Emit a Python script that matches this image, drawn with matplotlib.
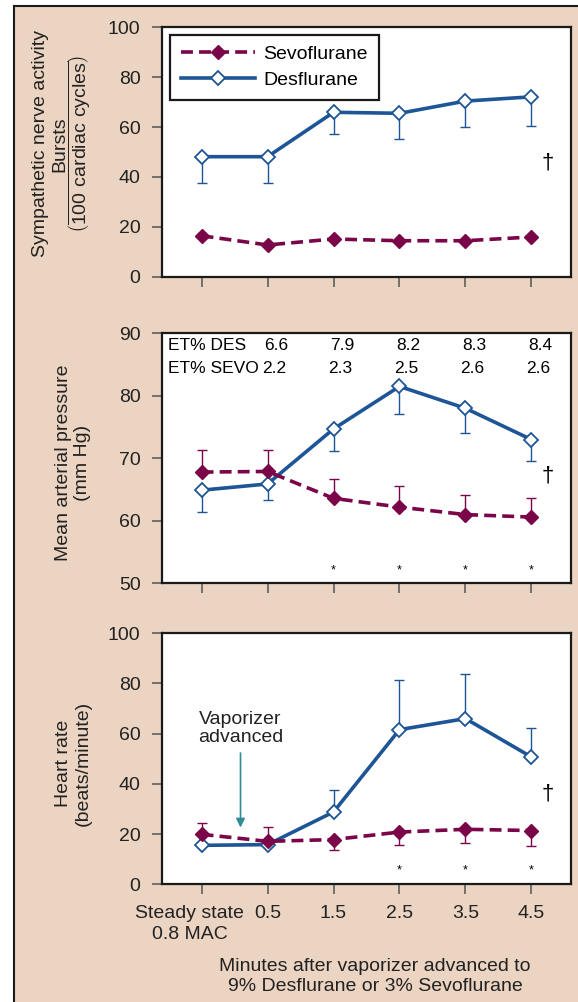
import numpy as np
import matplotlib.pyplot as plt
import matplotlib.transforms as mtransforms
from matplotlib.lines import Line2D
from matplotlib.patches import Rectangle

plt.rcParams['font.family'] = ['Liberation Sans', 'DejaVu Sans']
plt.rcParams['mathtext.fontset'] = 'custom'
plt.rcParams['mathtext.rm'] = 'Liberation Sans'

# ---------------- dados ----------------
tempos = ['Steady state\n0.8 MAC', '0.5', '1.5', '2.5', '3.5', '4.5']
x = np.arange(len(tempos))

# painel 1: atividade nervosa simpática
sna_sevo = [16.4, 12.7, 15.1, 14.4, 14.4, 15.9]
sna_des = [48.1, 48.1, 65.9, 65.5, 70.4, 72.1]
sna_des_barra = [37.6, 37.6, 57.3, 55.1, 59.9, 60.5]   # extremo da barra de erro

# painel 2: pressão arterial média
map_sevo = [67.8, 67.9, 63.6, 62.2, 61.0, 60.6]
map_sevo_barra = [71.3, 71.3, 66.7, 65.6, 64.1, 63.6]
map_des = [64.9, 65.9, 74.7, 81.5, 78.0, 73.0]
map_des_barra = [61.4, 63.4, 71.2, 77.1, 74.0, 69.5]
et_des = ['6.6', '7.9', '8.2', '8.3', '8.4']
et_sevo = ['2.2', '2.3', '2.5', '2.6', '2.6']

# painel 3: frequência cardíaca
hr_sevo = [19.9, 17.1, 17.8, 20.8, 21.9, 21.4]
hr_sevo_barra = [24.3, 22.8, 13.5, 15.5, 16.5, 15.3]
hr_des = [15.5, 15.8, 28.8, 61.6, 66.0, 50.7]
hr_des_barra = [np.nan, np.nan, 37.7, 81.4, 83.8, 62.2]

# marcas de significância
map_asterisco = [2, 3, 4, 5]
hr_asterisco = [3, 4, 5]

AZUL = '#1d5596'
GRENA = '#7a0548'
TAN = '#ebd4c1'
TEAL = '#2f8c97'
PRETO = '#1a1a1a'
TEXTO = '#222222'


def barras(ax, y, extremo, cor):
    y = np.asarray(y, dtype=float)
    e = np.asarray(extremo, dtype=float)
    ok = ~np.isnan(e)
    inf = np.where(e < y, y - e, 0.0)
    sup = np.where(e > y, e - y, 0.0)
    ax.errorbar(x[ok], y[ok], yerr=[inf[ok], sup[ok]], fmt='none', ecolor=cor,
                elinewidth=1.0, capsize=3.8, capthick=1.0, zorder=2)


def series(ax, sevo, des):
    l_des, = ax.plot(x, des, color=AZUL, lw=2.6, marker='D', ms=7.4, mfc='white',
                     mec=AZUL, mew=1.3, zorder=3)
    l_sevo, = ax.plot(x, sevo, color=GRENA, lw=2.6, ls=(0, (3.3, 1.7)), marker='D',
                      ms=7.4, mfc=GRENA, mec=GRENA, zorder=4)
    return l_sevo, l_des


fig = plt.figure(figsize=(5.78, 10.02), dpi=100)
fig.patch.set_facecolor('white')
fig.add_artist(Rectangle((15 / 578, 0), 1, 1 - 6.5 / 1002, transform=fig.transFigure,
                         facecolor=TAN, edgecolor='none', zorder=-10))
fig.add_artist(Line2D([14.3 / 578] * 2, [0, 1 - 5.7 / 1002], transform=fig.transFigure,
                      color=PRETO, lw=1.5))
fig.add_artist(Line2D([14.3 / 578, 1], [1 - 5.7 / 1002] * 2, transform=fig.transFigure,
                      color=PRETO, lw=1.5))

ax1 = fig.add_axes([0.2803, 0.7239, 0.7076, 0.2489])
ax2 = fig.add_axes([0.2803, 0.4178, 0.7076, 0.2496])
ax3 = fig.add_axes([0.2803, 0.1175, 0.7076, 0.2505])

for ax in (ax1, ax2, ax3):
    ax.set_facecolor('white')
    ax.set_xlim(-0.6, 5.6)
    ax.set_xticks(x)
    for s in ax.spines.values():
        s.set_linewidth(1.6)
        s.set_color(PRETO)
    ax.tick_params(direction='out', length=7.5, width=1.1, color='#555555',
                   labelsize=14, labelcolor=TEXTO, pad=8)
    ax.tick_params(axis='x', length=7, pad=8)

# ---------------- painel 1 ----------------
barras(ax1, sna_des, sna_des_barra, AZUL)
l_sevo, l_des = series(ax1, sna_sevo, sna_des)
ax1.set_ylim(0, 100)
ax1.set_yticks(np.arange(0, 101, 20))
ax1.tick_params(axis='x', labelbottom=False)
leg = ax1.legend([l_sevo, l_des], ['Sevoflurane', 'Desflurane'], loc='upper left',
                 bbox_to_anchor=(0.02, 0.969), borderaxespad=0, fancybox=False,
                 framealpha=1, edgecolor=PRETO, fontsize=14, handlelength=3.8,
                 handletextpad=0.45, labelspacing=0.42, borderpad=0.55)
leg.get_frame().set_linewidth(1.6)
ax1.text(5.24, 45.5, '\u2020', fontsize=16, ha='center', va='center')
ax1.set_ylabel('Sympathetic nerve activity', fontsize=14, color=TEXTO, va='center')
ax1.yaxis.set_label_coords(-0.296, 0.532)
ax1.text(-0.250, 0.532, 'Bursts', transform=ax1.transAxes, rotation=90,
         ha='center', va='center', fontsize=14, color=TEXTO)
ax1.text(-0.201, 0.532, r'$\left(\overline{\mathrm{100\ cardiac\ cycles}}\right)$',
         transform=ax1.transAxes, rotation=90, ha='center', va='center',
         fontsize=14, color=TEXTO)

# ---------------- painel 2 ----------------
barras(ax2, map_des, map_des_barra, AZUL)
barras(ax2, map_sevo, map_sevo_barra, GRENA)
series(ax2, map_sevo, map_des)
ax2.set_ylim(50, 90)
ax2.set_yticks(np.arange(50, 91, 10))
ax2.tick_params(axis='x', labelbottom=False)
ax2.text(-0.515, 88.0, 'ET% DES', fontsize=12.5, ha='left', va='center')
ax2.text(-0.515, 84.3, 'ET% SEVO', fontsize=12.5, ha='left', va='center')
for i, (d, s) in enumerate(zip(et_des, et_sevo)):
    ax2.text(i + 1 + 0.13, 88.0, d, fontsize=12.5, ha='center', va='center')
    ax2.text(i + 1 + 0.1, 84.3, s, fontsize=12.5, ha='center', va='center')
for i in map_asterisco:
    ax2.text(i, 52.0, '*', fontsize=9, ha='center', va='center')
ax2.text(5.24, 67.1, '\u2020', fontsize=16, ha='center', va='center')
ax2.set_ylabel('Mean arterial pressure\n(mm Hg)', fontsize=14, color=TEXTO, va='center')
ax2.yaxis.set_label_coords(-0.2176, 0.481)

# ---------------- painel 3 ----------------
barras(ax3, hr_des, hr_des_barra, AZUL)
barras(ax3, hr_sevo, hr_sevo_barra, GRENA)
series(ax3, hr_sevo, hr_des)
ax3.set_ylim(0, 100)
ax3.set_yticks(np.arange(0, 101, 20))
ax3.set_xticklabels(tempos)
primeiro = ax3.get_xticklabels()[0]
primeiro.set_linespacing(1.3)
primeiro.set_transform(primeiro.get_transform() +
                       mtransforms.ScaledTranslation(-0.12, 0, fig.dpi_scale_trans))
for i in hr_asterisco:
    ax3.text(i, 5.5, '*', fontsize=9, ha='center', va='center')
ax3.text(5.24, 36.1, '\u2020', fontsize=16, ha='center', va='center')
ax3.annotate('', xy=(0.59, 21.5), xytext=(0.59, 53.4),
             arrowprops=dict(arrowstyle='-|>', color=TEAL, lw=1.2, mutation_scale=13))
ax3.text(0.59, 62.0, 'Vaporizer\nadvanced', fontsize=14, ha='center', va='center',
         linespacing=1.1, color=TEXTO)
ax3.set_ylabel('Heart rate\n(beats/minute)', fontsize=14, color=TEXTO, va='center')
ax3.yaxis.set_label_coords(-0.2176, 0.4805)
ax3.set_xlabel('Minutes after vaporizer advanced to\n9% Desflurane or 3% Sevoflurane',
               fontsize=14, color=TEXTO, va='center', linespacing=1.25)
ax3.xaxis.set_label_coords(0.521, -0.367)

fig.savefig('out.png', dpi=100)
